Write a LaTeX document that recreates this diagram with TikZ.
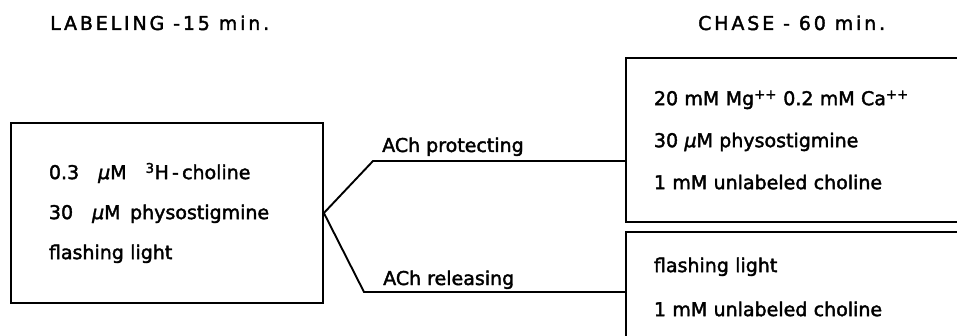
\documentclass[tikz,border=0pt]{standalone}
\usepackage{fontspec}
\setmainfont{DejaVu Sans}[FakeBold=2]
\newfontfamily\headfont{DejaVu Sans}[FakeBold=2,LetterSpace=15]
\usetikzlibrary{positioning}

\begin{document}
\begin{tikzpicture}[x=1pt,y=-1pt,
  font=\fontsize{19}{42}\selectfont,
  stagebox/.style={draw,line width=1.9pt,align=left,anchor=west,inner ysep=0pt},
  heading/.style={anchor=base west,inner sep=0pt,font=\headfont\fontsize{19}{22}\selectfont},
  link/.style={line width=1.9pt}]
  \useasboundingbox (0,0) rectangle (957,336);
  \clip (0,0) rectangle (957,336);
  % stage headings
  \node[heading] (labtitle) at (50,30) {LABELING -15 min.};
  \node[heading] (chasetitle) at (698,30) {CHASE - 60 min.};
  % labeling medium
  \node[stagebox,inner xsep=38pt,text width=236pt,minimum height=180pt,
        font=\fontsize{19}{40}\selectfont] (labeling) at (10,213)
    {0.3\quad\textit{μ}M\quad\textsuperscript{3}H\,-\,choline\\
     30\quad\textit{μ}M\enspace physostigmine\\
     flashing light};
  % chase media
  \node[stagebox,inner xsep=28pt,text width=330pt,minimum height=164pt] (protect) at (625,140)
    {20 mM Mg\textsuperscript{++} 0.2 mM Ca\textsuperscript{++}\\
     30 \textit{μ}M physostigmine\\
     1 mM unlabeled choline};
  \node[stagebox,inner xsep=28pt,text width=330pt,minimum height=110pt,
        font=\fontsize{19}{44}\selectfont] (release) at (625,287)
    {flashing light\\
     1 mM unlabeled choline};
  % branches
  \coordinate (upbend) at (373,161);
  \coordinate (lowbend) at (364,292);
  \draw[link] (labeling.east) -- (upbend) -- (upbend -| protect.west);
  \draw[link] (labeling.east) -- (lowbend) -- (lowbend -| release.west);
  \node[anchor=base west,inner sep=0pt] (protlabel) at (382,152) {ACh protecting};
  \node[anchor=base west,inner sep=0pt] (rellabel) at (383,285) {ACh releasing};
\end{tikzpicture}
\end{document}
